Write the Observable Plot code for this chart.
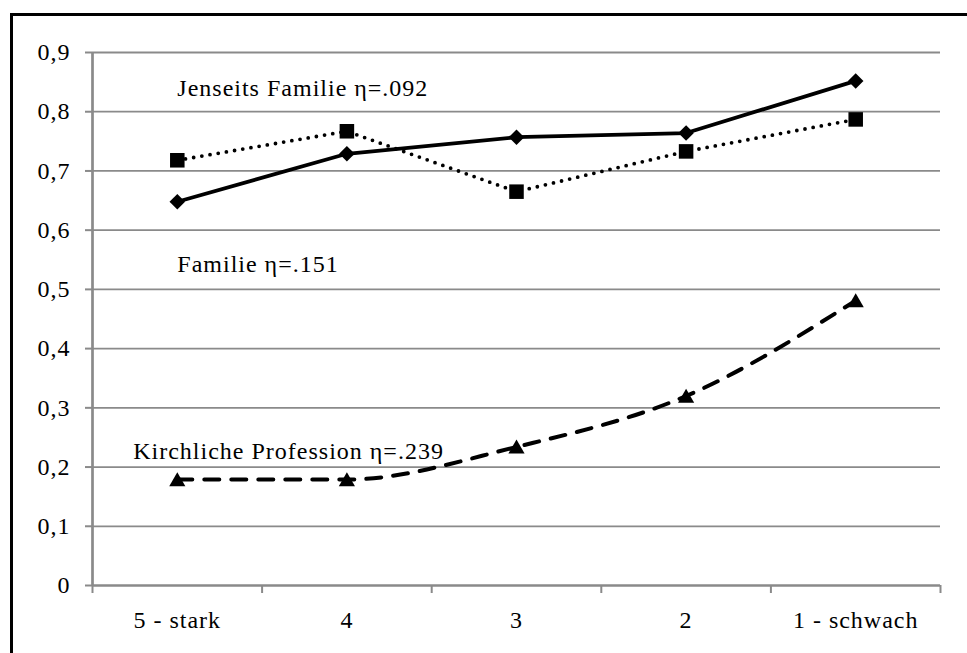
<!DOCTYPE html>
<html>
<head>
<meta charset="utf-8">
<script src="https://cdn.jsdelivr.net/npm/d3@7"></script>
<script src="https://cdn.jsdelivr.net/npm/@observablehq/plot@0.6"></script>
<style>
  html, body { margin: 0; padding: 0; background: #fff; overflow: hidden; }
  #chart { position: relative; width: 967px; height: 653px; overflow: hidden; }
  #chart .frame {
    position: absolute; left: 10px; top: 13px; width: 1000px; height: 700px;
    border-left: 3px solid #000; border-top: 3px solid #000; pointer-events: none;
  }
  #chart svg text {
    font-family: "Liberation Serif", "Times New Roman", serif !important;
    font-size: 24px !important;
    letter-spacing: 1px;
  }
</style>
</head>
<body>
<div id="chart"><div class="frame"></div></div>
<script>
// Ausprägung (x categories)
const categories = ["5 - stark", "4", "3", "2", "1 - schwach"];

// Anteilswerte je Reihe
const familie = [0.648, 0.729, 0.757, 0.764, 0.852];
const jenseitsFamilie = [0.718, 0.767, 0.665, 0.733, 0.787];
const kirchlicheProfession = [0.179, 0.179, 0.234, 0.320, 0.481];

// Reihenbeschriftungen
const seriesLabels = ["Jenseits Familie η=.092", "Familie η=.151", "Kirchliche Profession η=.239"];

// y-Achse
const yTicks = [0, 0.1, 0.2, 0.3, 0.4, 0.5, 0.6, 0.7, 0.8, 0.9];
const yTickLabels = ["0", "0,1", "0,2", "0,3", "0,4", "0,5", "0,6", "0,7", "0,8", "0,9"];

const gray = "#8a8a8a";
const idx = categories.map((_, i) => i);
const bounds = [-0.5, ...idx.map(i => i + 0.5)];
const rows = vals => vals.map((v, i) => ({i, v}));

// label anchors (category index, value) for the three series names
const labelRows = [
  {text: seriesLabels[0], i: 0, v: 0.84},
  {text: seriesLabels[1], i: 0, v: 0.543},
  {text: seriesLabels[2], i: -0.26, v: 0.227}
];

const chart = Plot.plot({
  width: 967,
  height: 653,
  marginLeft: 92,
  marginRight: 27,
  marginTop: 52,
  marginBottom: 68,
  style: {
    fontFamily: "Liberation Serif, Times New Roman, serif",
    fontSize: "24px",
    color: "#000",
    background: "transparent"
  },
  x: {type: "linear", domain: [-0.5, categories.length - 0.5], label: null},
  y: {domain: [0, 0.9], label: null},
  marks: [
    // gridlines
    Plot.ruleY(yTicks.slice(1), {stroke: gray, strokeWidth: 1.8}),
    // y axis ticks and labels
    Plot.axisY(yTicks, {
      tickSize: 7, tickPadding: 15,
      tickFormat: d => yTickLabels[yTicks.indexOf(d)],
      stroke: gray, strokeWidth: 2, fill: "#000", label: null
    }),
    // x axis: ticks between categories
    Plot.axisX(bounds, {tickSize: 8, tickFormat: () => "", stroke: gray, strokeWidth: 2, label: null}),
    // x axis: category names
    Plot.axisX(idx, {tickSize: 0, tickPadding: 25, tickFormat: i => categories[i], fill: "#000", label: null}),
    // axis lines
    Plot.ruleX([-0.5], {stroke: gray, strokeWidth: 2.7}),
    Plot.ruleY([0], {stroke: gray, strokeWidth: 2.7}),
    // series lines
    Plot.line(rows(jenseitsFamilie), {x: "i", y: "v", stroke: "#000", strokeWidth: 3.8, strokeDasharray: "0,8.3", strokeLinecap: "round"}),
    Plot.line(rows(familie), {x: "i", y: "v", stroke: "#000", strokeWidth: 3.8}),
    Plot.line(rows(kirchlicheProfession), {x: "i", y: "v", stroke: "#000", strokeWidth: 4, strokeDasharray: "15,12", curve: "monotone-x"}),
    // markers
    Plot.dot(rows(jenseitsFamilie), {x: "i", y: "v", symbol: "square", r: 8.2, fill: "#000"}),
    Plot.dot(rows(familie), {x: "i", y: "v", symbol: "diamond2", r: 7, fill: "#000"}),
    Plot.dot(rows(kirchlicheProfession), {x: "i", y: "v", symbol: "triangle", r: 6, fill: "#000", dy: 2}),
    // series names
    Plot.text(labelRows, {x: "i", y: "v", text: "text", textAnchor: "start", fill: "#000"})
  ]
});

document.getElementById("chart").prepend(chart);
</script>
</body>
</html>
